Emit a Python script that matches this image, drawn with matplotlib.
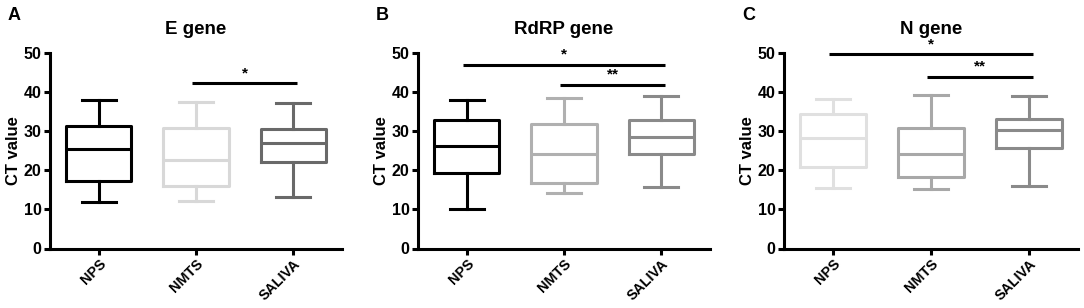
import numpy as np
import matplotlib
matplotlib.use('Agg')
import matplotlib.pyplot as plt

plt.rcParams['font.family'] = ['Liberation Sans', 'DejaVu Sans']
plt.rcParams['font.weight'] = 'bold'

groups = ['NPS', 'NMTS', 'SALIVA']
titles = ['E gene', 'RdRP gene', 'N gene']
letters = ['A', 'B', 'C']

# box stats per panel: [low whisker, q1, median, q3, high whisker]
e_gene = [[11.8, 17.2, 25.4, 31.4, 37.9],
          [12.1, 15.9, 22.6, 30.7, 37.4],
          [13.1, 22.2, 27.0, 30.6, 37.2]]
rdrp_gene = [[10.0, 19.4, 26.2, 32.9, 38.1],
             [14.2, 16.8, 24.1, 31.8, 38.4],
             [15.8, 24.2, 28.4, 32.9, 39.1]]
n_gene = [[15.4, 20.9, 28.3, 34.4, 38.2],
          [15.2, 18.2, 24.2, 30.9, 39.3],
          [16.0, 25.6, 30.3, 33.2, 39.1]]

box_colors = [['#000000', '#d8d8d8', '#696969'],
              ['#000000', '#b0b0b0', '#8a8a8a'],
              ['#e0e0e0', '#a8a8a8', '#8a8a8a']]

# significance brackets: (group from, group to, height, label)
e_sig = [(1, 2, 42.3, '*')]
rdrp_sig = [(0, 2, 47.0, '*'), (1, 2, 41.8, '**')]
n_sig = [(0, 2, 49.7, '*'), (1, 2, 43.9, '**')]

panels = [e_gene, rdrp_gene, n_gene]
sigs = [e_sig, rdrp_sig, n_sig]

W, H = 1084, 308
fig = plt.figure(figsize=(W / 100, H / 100), dpi=100)

lefts = [50, 418, 784]
widths = [292, 292, 294]
bottom_px, top_px = 248.5, 53
lw = 2.2

for i in range(3):
    ax = fig.add_axes([lefts[i] / W, (H - bottom_px) / H,
                       widths[i] / W, (bottom_px - top_px) / H])
    stats = []
    for g, s in zip(groups, panels[i]):
        stats.append(dict(label=g, whislo=s[0], q1=s[1], med=s[2],
                          q3=s[3], whishi=s[4], fliers=[]))
    for j, st in enumerate(stats):
        c = box_colors[i][j]
        ax.bxp([st], positions=[j], widths=0.67, showfliers=False,
               boxprops=dict(color=c, linewidth=lw),
               medianprops=dict(color=c, linewidth=lw),
               whiskerprops=dict(color=c, linewidth=lw),
               capprops=dict(color=c, linewidth=lw),
               capwidths=0.35)
    for a, b, y, lab in sigs[i]:
        ax.plot([a - 0.04, b + 0.04], [y, y], color='black', lw=lw,
                solid_capstyle='butt', clip_on=False)
        ax.text((a + b) / 2, y + 0.8, lab, ha='center', va='bottom',
                fontsize=11, fontweight='bold')
    ax.set_xlim(-0.5, 2.5)
    ax.set_ylim(0, 50)
    ax.set_yticks(range(0, 51, 10))
    ax.set_xticks(range(3))
    ax.set_xticklabels(groups, rotation=45, ha='right',
                       rotation_mode='anchor', fontsize=10.3,
                       fontweight='bold')
    for t in ax.get_yticklabels():
        t.set_fontsize(11.5)
        t.set_fontweight('bold')
    ax.spines['top'].set_visible(False)
    ax.spines['right'].set_visible(False)
    ax.spines['left'].set_linewidth(lw)
    ax.spines['bottom'].set_linewidth(lw)
    ax.tick_params(axis='both', direction='out', length=4, width=lw,
                   pad=2)
    ax.set_ylabel('CT value', fontsize=12, fontweight='bold', labelpad=2)
    ax.set_title(titles[i], fontsize=13.5, fontweight='bold', pad=14)
    fig.text((lefts[i] - 42) / W, 1 - 15 / H, letters[i], fontsize=13,
             fontweight='bold', ha='left', va='center')

fig.savefig('out.png', dpi=100)
